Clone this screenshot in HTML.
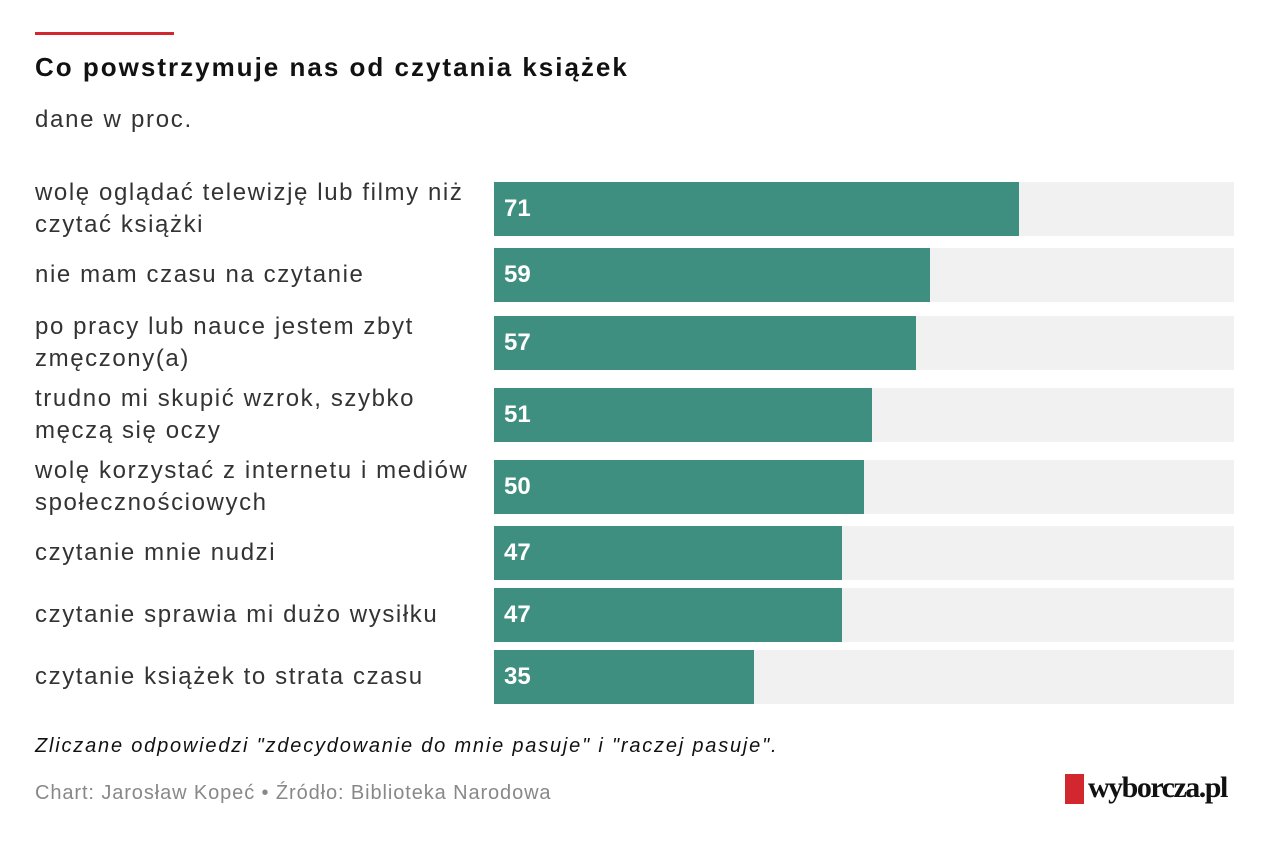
<!DOCTYPE html>
<html><head><meta charset="utf-8"><style>
body{margin:0;width:1272px;height:842px;background:#fff;font-family:"Liberation Sans",sans-serif;position:relative;overflow:hidden}
.a{position:absolute}
.lab{position:absolute;left:35px;width:445px;font-size:24px;line-height:32px;color:#333;letter-spacing:1.6px}
.bg{position:absolute;left:494px;width:740px;height:54px;background:#f1f1f1}
.bar{position:absolute;left:0;top:0;height:54px;background:#3e8f80}
.v{position:absolute;left:10px;top:0;line-height:54px;color:#fff;font-size:24px;font-weight:bold}
</style></head><body>
<div class="a" style="left:35px;top:32px;width:139px;height:3px;background:#d3272f"></div>
<div class="a" style="left:35px;top:52px;font-size:26px;font-weight:bold;color:#111;letter-spacing:2px">Co powstrzymuje nas od czytania książek</div>
<div class="a" style="left:35px;top:106px;font-size:24px;color:#333;letter-spacing:1.7px">dane w proc.</div>

<div class="lab" style="top:177px">wolę oglądać telewizję lub filmy niż czytać książki</div>
<div class="bg" style="top:182px"><div class="bar" style="width:525px"><span class="v">71</span></div></div>
<div class="lab" style="top:259px">nie mam czasu na czytanie</div>
<div class="bg" style="top:248px"><div class="bar" style="width:436px"><span class="v">59</span></div></div>
<div class="lab" style="top:311px">po pracy lub nauce jestem zbyt zmęczony(a)</div>
<div class="bg" style="top:316px"><div class="bar" style="width:422px"><span class="v">57</span></div></div>
<div class="lab" style="top:383px">trudno mi skupić wzrok, szybko męczą się oczy</div>
<div class="bg" style="top:388px"><div class="bar" style="width:378px"><span class="v">51</span></div></div>
<div class="lab" style="top:455px">wolę korzystać z internetu i mediów społecznościowych</div>
<div class="bg" style="top:460px"><div class="bar" style="width:370px"><span class="v">50</span></div></div>
<div class="lab" style="top:537px">czytanie mnie nudzi</div>
<div class="bg" style="top:526px"><div class="bar" style="width:348px"><span class="v">47</span></div></div>
<div class="lab" style="top:599px">czytanie sprawia mi dużo wysiłku</div>
<div class="bg" style="top:588px"><div class="bar" style="width:348px"><span class="v">47</span></div></div>
<div class="lab" style="top:661px">czytanie książek to strata czasu</div>
<div class="bg" style="top:650px"><div class="bar" style="width:260px"><span class="v">35</span></div></div>

<div class="a" style="left:35px;top:735px;font-size:20px;font-style:italic;color:#111;letter-spacing:1.8px">Zliczane odpowiedzi "zdecydowanie do mnie pasuje" i "raczej pasuje".</div>
<div class="a" style="left:35px;top:782px;font-size:20px;color:#888;letter-spacing:0.9px">Chart: Jarosław Kopeć • Źródło: Biblioteka Narodowa</div>
<div class="a" style="left:1065px;top:774px;width:19px;height:30px;background:#d3272f"></div>
<div class="a" style="left:1088px;top:771px;font-family:'Liberation Serif',serif;font-weight:bold;font-size:30px;color:#111;letter-spacing:-1.5px">wyborcza.pl</div>
</body></html>
